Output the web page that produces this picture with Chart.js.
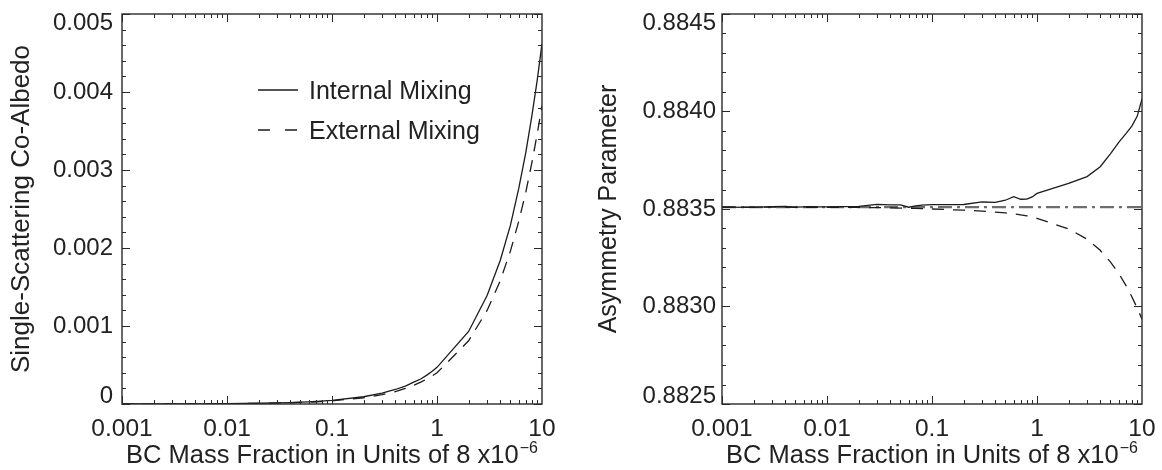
<!DOCTYPE html>
<html>
<head>
<meta charset="utf-8">
<script src="https://cdn.jsdelivr.net/npm/chart.js@4.4.0/dist/chart.umd.min.js"></script>
<style>
  html, body { margin: 0; padding: 0; background: #fff; }
  #wrap { position: relative; width: 1162px; height: 470px; }
  .panel { position: absolute; top: 0; width: 581px; height: 470px; }
</style>
</head>
<body>
<div id="wrap">
  <div class="panel" style="left:0"><canvas id="albedoChart" width="581" height="470"></canvas></div>
  <div class="panel" style="left:581px"><canvas id="asymChart" width="581" height="470"></canvas></div>
</div>
<script>
// BC mass fraction, in units of 8e-6
const bcFraction = [0.001, 0.002, 0.003, 0.004, 0.005, 0.006, 0.007, 0.008, 0.009,
    0.01, 0.02, 0.03, 0.04, 0.05, 0.06, 0.07, 0.08, 0.09,
    0.1, 0.2, 0.3, 0.4, 0.5, 0.6, 0.7, 0.8, 0.9,
    1, 2, 3, 4, 5, 6, 7, 8, 9, 10];

// single-scattering co-albedo
const coAlbedoInternal = [0.0000005, 0.0000009, 0.0000014, 0.0000019, 0.0000023, 0.0000028, 0.0000032, 0.0000037, 0.0000042,
    0.0000046, 0.0000093, 0.000014, 0.000018, 0.000023, 0.000028, 0.000032, 0.000037, 0.000042,
    0.000047, 0.000093, 0.00014, 0.000186, 0.00023, 0.00028, 0.00032, 0.00037, 0.00042,
    0.00047, 0.00093, 0.00139, 0.00184, 0.00229, 0.00276, 0.00322, 0.00369, 0.00415, 0.00462];
const coAlbedoExternal = [0.0000004, 0.0000008, 0.0000012, 0.0000016, 0.000002, 0.0000024, 0.0000028, 0.0000032, 0.0000036,
    0.000004, 0.000008, 0.000012, 0.000016, 0.00002, 0.000024, 0.000028, 0.000032, 0.000036,
    0.00004, 0.00008, 0.00012, 0.00016, 0.0002, 0.00024, 0.00028, 0.00032, 0.00036,
    0.0004, 0.00081, 0.0012, 0.00158, 0.00196, 0.00234, 0.00271, 0.00309, 0.00346, 0.00383];

// asymmetry parameter
const asymInternal = [0.88351, 0.883508, 0.883512, 0.883513, 0.88351, 0.883511, 0.883512, 0.883511, 0.883511,
    0.883511, 0.883513, 0.883524, 0.883521, 0.883521, 0.883509, 0.883516, 0.88352, 0.883521,
    0.883522, 0.883523, 0.883536, 0.883534, 0.883545, 0.883563, 0.88355, 0.883551, 0.883562,
    0.88358, 0.883632, 0.883666, 0.883717, 0.883783, 0.883842, 0.883885, 0.883925, 0.883975, 0.884065];
const asymExternal = [0.88351, 0.88351, 0.88351, 0.88351, 0.883509, 0.883509, 0.883509, 0.883509, 0.883509,
    0.883509, 0.883508, 0.883507, 0.883506, 0.883505, 0.883504, 0.883503, 0.883502, 0.883501,
    0.8835, 0.883494, 0.883489, 0.883484, 0.88348, 0.883475, 0.88347, 0.883465, 0.88346,
    0.883452, 0.883398, 0.883345, 0.883288, 0.883229, 0.88317, 0.88311, 0.88305, 0.882992, 0.882935];
const asymPureX = [0.001, 10];
const asymPure = [0.88351, 0.88351];

const xTickValues = [0.001, 0.01, 0.1, 1, 10];
const xTickLabels = ['0.001', '0.01', '0.1', '1', '10'];
const albedoTicks = [0, 0.001, 0.002, 0.003, 0.004, 0.005];
const albedoTickLabels = ['0', '0.001', '0.002', '0.003', '0.004', '0.005'];
const asymTicks = [0.8825, 0.883, 0.8835, 0.884, 0.8845];
const asymTickLabels = ['0.8825', '0.8830', '0.8835', '0.8840', '0.8845'];

const FONT = '"Liberation Sans", Arial, Helvetica, sans-serif';
const INK = '#222';

function points(xs, ys) {
    return xs.map((x, i) => ({ x: x, y: ys[i] }));
}

// IDL-style box: inward ticks on all sides, labels, titles, legend
const idlAxes = {
    id: 'idlAxes',
    afterDraw(chart, args, opts) {
        const ctx = chart.ctx;
        const a = chart.chartArea;
        const xs = chart.scales.x, ys = chart.scales.y;
        ctx.save();
        ctx.setLineDash([]);
        ctx.strokeStyle = '#2a2a2a';
        ctx.lineWidth = 1.4;
        ctx.strokeRect(a.left, a.top, a.right - a.left, a.bottom - a.top);

        ctx.lineWidth = 1;
        ctx.beginPath();
        for (let d = -3; d < 1; d++) {
            for (let m = 1; m < 10; m++) {
                const px = Math.round(xs.getPixelForValue(m * Math.pow(10, d))) + 0.5;
                const len = m === 1 ? 8 : 4;
                ctx.moveTo(px, a.bottom); ctx.lineTo(px, a.bottom - len);
                ctx.moveTo(px, a.top); ctx.lineTo(px, a.top + len);
            }
        }
        const yv = opts.yTicks;
        const step = (yv[1] - yv[0]) / 5;
        for (let i = 0; i < yv.length; i++) {
            const py = Math.round(ys.getPixelForValue(yv[i])) + 0.5;
            ctx.moveTo(a.left, py); ctx.lineTo(a.left + 8, py);
            ctx.moveTo(a.right, py); ctx.lineTo(a.right - 8, py);
            if (i < yv.length - 1) {
                for (let k = 1; k < 5; k++) {
                    const pm = Math.round(ys.getPixelForValue(yv[i] + k * step)) + 0.5;
                    ctx.moveTo(a.left, pm); ctx.lineTo(a.left + 4, pm);
                    ctx.moveTo(a.right, pm); ctx.lineTo(a.right - 4, pm);
                }
            }
        }
        ctx.stroke();

        ctx.fillStyle = INK;
        ctx.font = '24px ' + FONT;
        ctx.textAlign = 'right';
        ctx.textBaseline = 'middle';
        yv.forEach((v, i) => {
            let py = ys.getPixelForValue(v);
            if (i === 0) py -= 8;
            if (i === yv.length - 1) py += 9;
            ctx.fillText(opts.yLabels[i], opts.yLabelRight, py);
        });
        ctx.font = '24.5px ' + FONT;
        ctx.textAlign = 'center';
        ctx.textBaseline = 'alphabetic';
        xTickValues.forEach((v, i) => {
            ctx.fillText(xTickLabels[i], xs.getPixelForValue(v), 436);
        });

        // x title with superscript exponent
        const main = 'BC Mass Fraction in Units of 8 x10';
        const sup = '\u22126';
        ctx.font = '25.5px ' + FONT;
        const w1 = ctx.measureText(main).width;
        ctx.font = '16px ' + FONT;
        const w2 = ctx.measureText(sup).width;
        const x0 = (a.left + a.right) / 2 - (w1 + w2 + 1) / 2;
        ctx.textAlign = 'left';
        ctx.font = '25.5px ' + FONT;
        ctx.fillText(main, x0, 463);
        ctx.font = '16px ' + FONT;
        ctx.fillText(sup, x0 + w1 + 1, 453);

        ctx.save();
        ctx.translate(opts.yTitleX, (a.top + a.bottom) / 2);
        ctx.rotate(-Math.PI / 2);
        ctx.font = opts.yTitleSize + 'px ' + FONT;
        ctx.textAlign = 'center';
        ctx.textBaseline = 'middle';
        ctx.fillText(opts.yTitle, 0, 0);
        ctx.restore();

        if (opts.legend) {
            ctx.font = '25px ' + FONT;
            ctx.textAlign = 'left';
            ctx.textBaseline = 'alphabetic';
            chart.data.datasets.forEach((ds, i) => {
                const ly = 90 + i * 40;
                ctx.strokeStyle = ds.borderColor;
                ctx.lineWidth = ds.borderWidth;
                ctx.setLineDash(ds.borderDash && ds.borderDash.length ? [12, 15] : []);
                ctx.beginPath();
                ctx.moveTo(258, ly);
                ctx.lineTo(298, ly);
                ctx.stroke();
                ctx.fillText(ds.label, 309, ly + 9);
            });
        }
        ctx.restore();
    }
};

function baseOptions(yMin, yMax, yWidth, padRight, axesOpts) {
    return {
        responsive: false,
        animation: false,
        devicePixelRatio: 1,
        layout: { padding: { left: 0, right: padRight, top: 14, bottom: 0 } },
        elements: { point: { radius: 0 }, line: { tension: 0 } },
        scales: {
            x: {
                type: 'logarithmic',
                min: 0.001,
                max: 10,
                ticks: { display: false },
                grid: { display: false },
                border: { display: false },
                afterFit: s => { s.height = 66; }
            },
            y: {
                type: 'linear',
                min: yMin,
                max: yMax,
                ticks: { display: false },
                grid: { display: false },
                border: { display: false },
                afterFit: s => { s.width = yWidth; }
            }
        },
        plugins: {
            legend: { display: false },
            tooltip: { enabled: false },
            idlAxes: axesOpts
        }
    };
}

new Chart(document.getElementById('albedoChart').getContext('2d'), {
    type: 'line',
    data: {
        datasets: [
            {
                label: 'Internal Mixing',
                data: points(bcFraction, coAlbedoInternal),
                borderColor: '#1c1c1c',
                borderWidth: 1.3,
                borderDash: []
            },
            {
                label: 'External Mixing',
                data: points(bcFraction, coAlbedoExternal),
                borderColor: '#1c1c1c',
                borderWidth: 1.3,
                borderDash: [12, 9]
            }
        ]
    },
    options: baseOptions(0, 0.005, 122, 39, {
        yTicks: albedoTicks,
        yLabels: albedoTickLabels,
        yLabelRight: 113,
        yTitle: 'Single-Scattering Co-Albedo',
        yTitleX: 22,
        yTitleSize: 26,
        legend: true
    }),
    plugins: [idlAxes]
});

new Chart(document.getElementById('asymChart').getContext('2d'), {
    type: 'line',
    data: {
        datasets: [
            {
                label: 'Internal Mixing',
                data: points(bcFraction, asymInternal),
                borderColor: '#1c1c1c',
                borderWidth: 1.3
            },
            {
                label: 'External Mixing',
                data: points(bcFraction, asymExternal),
                borderColor: '#1c1c1c',
                borderWidth: 1.3,
                borderDash: [12, 9]
            },
            {
                label: 'Pure',
                data: points(asymPureX, asymPure),
                borderColor: '#6e6e6e',
                borderWidth: 2.2,
                borderDash: [14, 5, 3, 5]
            }
        ]
    },
    options: baseOptions(0.8825, 0.8845, 141, 20, {
        yTicks: asymTicks,
        yLabels: asymTickLabels,
        yLabelRight: 135,
        yTitle: 'Asymmetry Parameter',
        yTitleX: 28,
        yTitleSize: 25,
        legend: false
    }),
    plugins: [idlAxes]
});
</script>
</body>
</html>
